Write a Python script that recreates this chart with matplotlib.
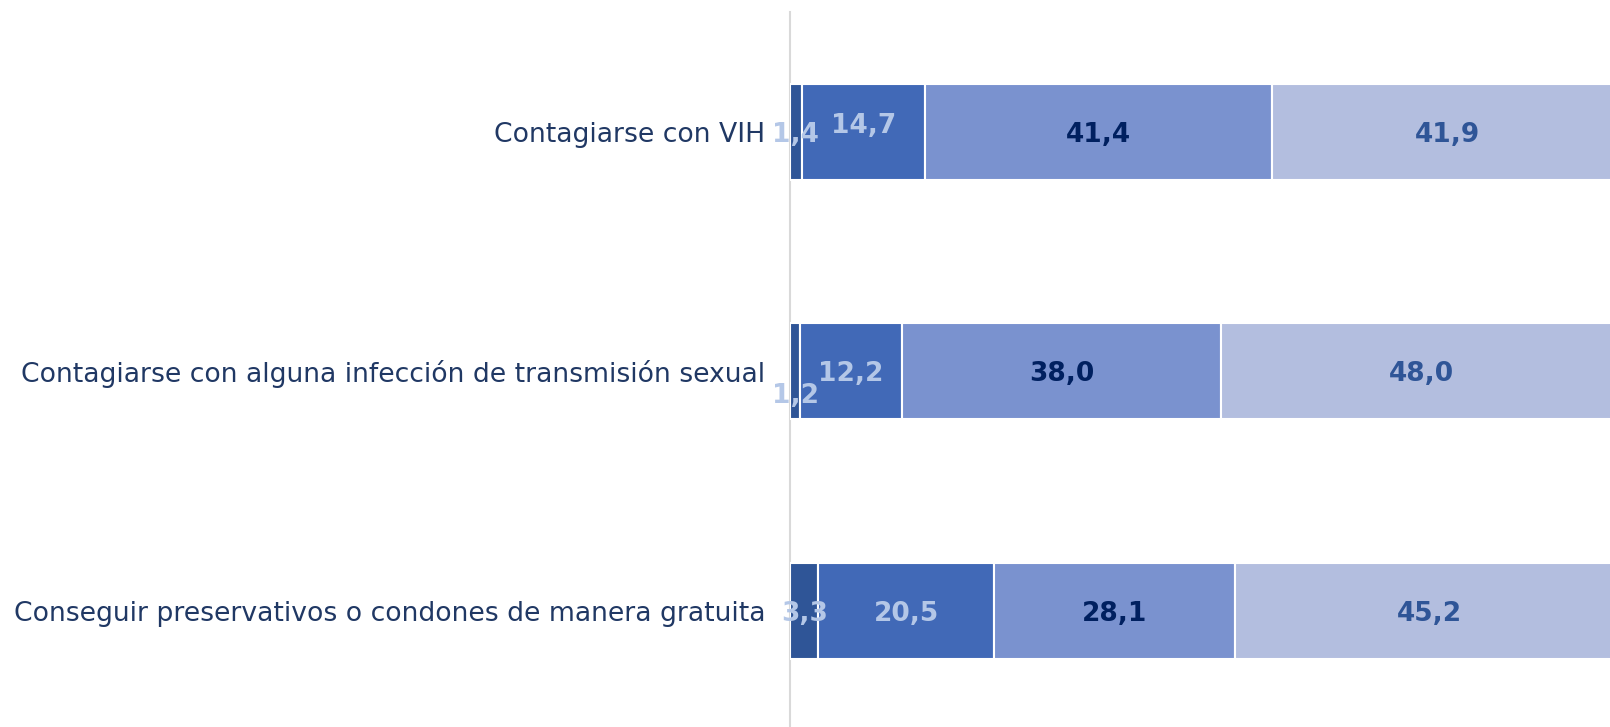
import matplotlib
matplotlib.use("Agg")
import matplotlib.pyplot as plt

categorias = [
    "Contagiarse con VIH",
    "Contagiarse con alguna infección de transmisión sexual",
    "Conseguir preservativos o condones de manera gratuita",
]
serie1 = [1.4, 1.2, 3.3]
serie2 = [14.7, 12.2, 20.5]
serie3 = [41.4, 38.0, 28.1]
serie4 = [41.9, 48.0, 45.2]

colores = ["#2F5597", "#4169B7", "#7A92CF", "#B3BEDF"]
colores_txt = ["#B4C7E7", "#B4C7E7", "#002060", "#2F5597"]
# small vertical nudges (pixels) like the overlapping labels in the original
ajustes = {(0, 1): 9, (1, 0): -22}

fig = plt.figure(figsize=(16.1, 7.27), dpi=100)
ax = fig.add_axes([790 / 1610, -3.3 / 727, 833 / 1610, 718 / 727])

series = [serie1, serie2, serie3, serie4]
y = list(range(len(categorias)))
totales = [sum(s[i] for s in series) for i in y]

# 100% stacked: every bar is scaled to its own total
izq = [0.0] * len(categorias)
for k, s in enumerate(series):
    ancho = [s[i] / totales[i] for i in y]
    ax.barh(y, ancho, left=izq, height=0.4, color=colores[k],
            edgecolor="white", linewidth=1.5)
    for i, v in enumerate(s):
        dy = ajustes.get((i, k), 0) - 3
        ax.annotate(f"{v:.1f}".replace(".", ","), (izq[i] + ancho[i] / 2, y[i]),
                    xytext=(0, dy), textcoords="offset pixels",
                    ha="center", va="center", fontsize=19, fontweight="bold",
                    color=colores_txt[k], annotation_clip=False)
    izq = [a + b for a, b in zip(izq, ancho)]

ax.set_xlim(0, 1)
ax.set_ylim(2.5, -0.5)
ax.set_yticks(y)
ax.set_yticklabels(categorias, fontsize=19.2, color="#203864")
ax.tick_params(axis="y", length=0, pad=18)
ax.set_xticks([])
for lado in ["top", "right", "bottom"]:
    ax.spines[lado].set_visible(False)
ax.spines["left"].set_color("#D9D9D9")
ax.spines["left"].set_linewidth(1.5)
ax.spines["left"].set_zorder(0)

fig.savefig("out.png", dpi=100)
